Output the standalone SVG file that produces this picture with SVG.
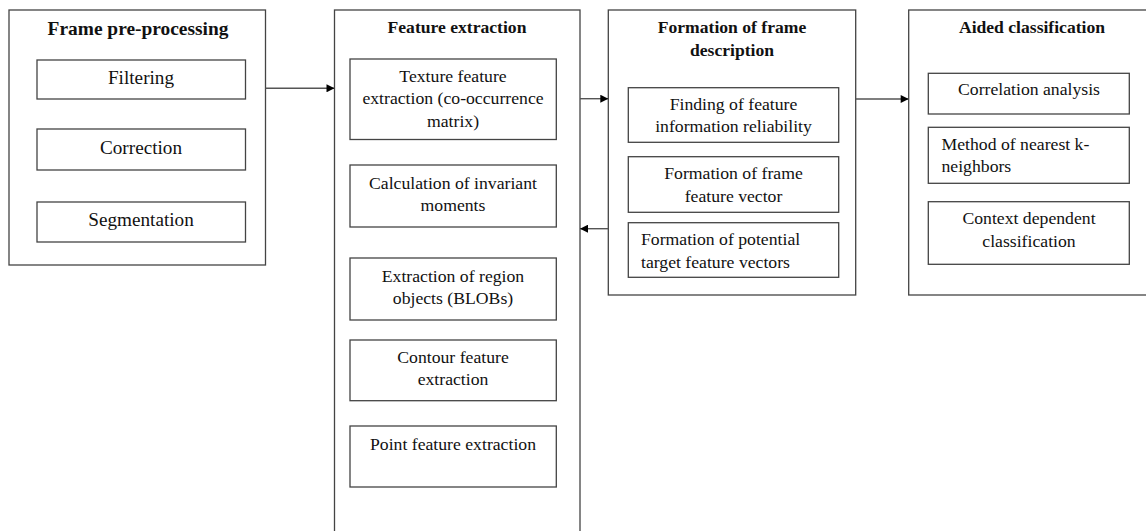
<svg xmlns="http://www.w3.org/2000/svg" width="1146" height="531" viewBox="0 0 1146 531">
<defs>
<style>
.box{fill:#fff;stroke:#444;stroke-width:1.3}
.t{font-family:"Liberation Serif","Times New Roman",serif;font-size:17.7px;fill:#111}
.c{text-anchor:middle}
.b{font-weight:bold;font-size:17.6px}
.big{font-size:19.2px}
.ln{stroke:#555;stroke-width:1.4;fill:none}
</style>
<marker id="ah" viewBox="0 0 10 10" refX="10" refY="5" markerWidth="10" markerHeight="8" markerUnits="userSpaceOnUse" orient="auto">
<path d="M0,0 L10,5 L0,10 z" fill="#000"/>
</marker>
</defs>
<rect width="1146" height="531" fill="#fff"/>

<g id="frame-preprocessing">
<rect class="box" x="9" y="10" width="256.5" height="255"/>
<text class="t c b" x="138" y="34.5" style="font-size:19.4px">Frame pre-processing</text>
<rect class="box" x="37" y="60" width="208.5" height="39"/>
<text class="t c big" x="141" y="83.5">Filtering</text>
<rect class="box" x="37" y="129" width="208.5" height="41"/>
<text class="t c big" x="141" y="154">Correction</text>
<rect class="box" x="37" y="202" width="208.5" height="40"/>
<text class="t c big" x="141" y="225.5">Segmentation</text>
</g>

<g id="feature-extraction">
<rect class="box" x="334.5" y="10" width="245.5" height="540"/>
<text class="t c b" x="457" y="33">Feature extraction</text>
<rect class="box" x="350" y="59" width="206.3" height="80.5"/>
<text class="t c" x="453" y="82">Texture feature</text>
<text class="t c" x="453" y="104.3">extraction (co-occurrence</text>
<text class="t c" x="453" y="126.5">matrix)</text>
<rect class="box" x="350" y="165" width="206.3" height="62"/>
<text class="t c" x="453" y="188.5">Calculation of invariant</text>
<text class="t c" x="453" y="210.8">moments</text>
<rect class="box" x="350" y="258" width="206.3" height="62"/>
<text class="t c" x="453" y="281.5">Extraction of region</text>
<text class="t c" x="453" y="303.8">objects (BLOBs)</text>
<rect class="box" x="350" y="340" width="206.3" height="60.7"/>
<text class="t c" x="453" y="362.8">Contour feature</text>
<text class="t c" x="453" y="385">extraction</text>
<rect class="box" x="350" y="426" width="206.3" height="61"/>
<text class="t c" x="453" y="450">Point feature extraction</text>
</g>

<g id="frame-description">
<rect class="box" x="608.3" y="10" width="247.4" height="285"/>
<text class="t c b" x="732" y="32.5">Formation of frame</text>
<text class="t c b" x="732" y="55.5">description</text>
<rect class="box" x="628.3" y="87.7" width="210.4" height="54.6"/>
<text class="t c" x="733.5" y="110">Finding of feature</text>
<text class="t c" x="733.5" y="132">information reliability</text>
<rect class="box" x="628.3" y="156.7" width="210.4" height="55.6"/>
<text class="t c" x="733.5" y="179.2">Formation of frame</text>
<text class="t c" x="733.5" y="201.7">feature vector</text>
<rect class="box" x="628.3" y="222.7" width="210.4" height="54.6"/>
<text class="t" x="641" y="245.2">Formation of potential</text>
<text class="t" x="641" y="267.7">target feature vectors</text>
</g>

<g id="aided-classification">
<rect class="box" x="908.7" y="10" width="250" height="285"/>
<text class="t c b" x="1032" y="33.3">Aided classification</text>
<rect class="box" x="928.3" y="73.3" width="201" height="40.7"/>
<text class="t c" x="1029" y="95.3">Correlation analysis</text>
<rect class="box" x="928.3" y="127.3" width="201" height="56"/>
<text class="t" x="941.5" y="149.5">Method of nearest k-</text>
<text class="t" x="941.5" y="171.8">neighbors</text>
<rect class="box" x="928.3" y="201.7" width="201" height="62.6"/>
<text class="t c" x="1029" y="224.2">Context dependent</text>
<text class="t c" x="1029" y="246.7">classification</text>
</g>

<g id="connectors">
<line class="ln" x1="265.5" y1="88.3" x2="334.5" y2="88.3" marker-end="url(#ah)"/>
<line class="ln" x1="580" y1="98.7" x2="608.3" y2="98.7" marker-end="url(#ah)"/>
<line class="ln" x1="608.3" y1="228.7" x2="580" y2="228.7" marker-end="url(#ah)"/>
<line class="ln" x1="855.7" y1="99" x2="908.7" y2="99" marker-end="url(#ah)"/>
</g>
</svg>
